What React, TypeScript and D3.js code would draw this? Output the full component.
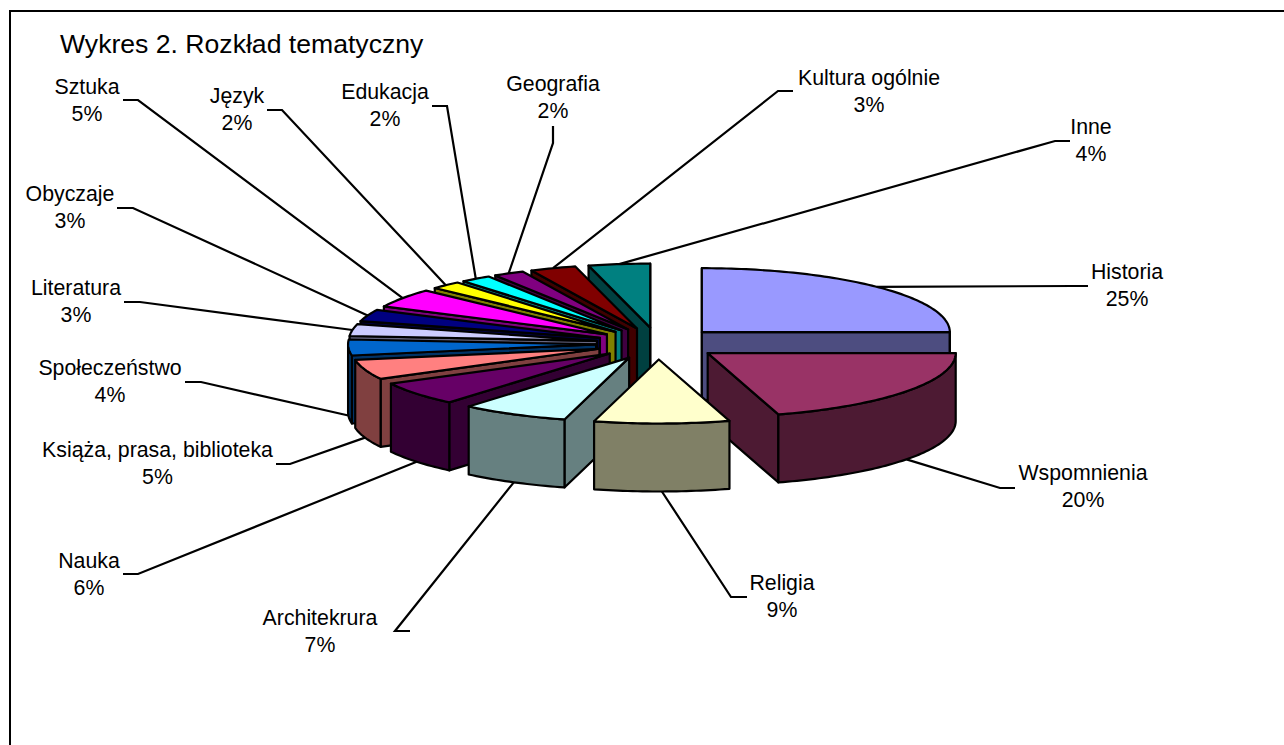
import React from 'react';
import * as d3 from 'd3';

const categories = ['Historia', 'Wspomnienia', 'Religia', 'Architekrura', 'Nauka', 'Książa, prasa, biblioteka', 'Społeczeństwo', 'Literatura', 'Obyczaje', 'Sztuka', 'Język', 'Edukacja', 'Geografia', 'Kultura ogólnie', 'Inne'];
// shares as read from the slice edges; the labels show them rounded
const shares = [25, 20.4, 8.8, 7, 6, 5, 4, 3, 3, 4.8, 2, 2, 2, 3, 4];
const topColors = ['#9999FF', '#993366', '#FFFFCC', '#CCFFFF', '#660066', '#FF8080', '#0066CC', '#CCCCFF', '#000080', '#FF00FF', '#FFFF00', '#00FFFF', '#800080', '#800000', '#008080'];

// label centre x, first text baseline y, then the two leader points next to the label
const labelLayout: [number, number, [number, number], [number, number]][] = [
  [1127, 279, [1088, 286], [1073, 286]],
  [1083, 480, [1015, 488], [1000, 488]],
  [782, 590, [747, 597], [731, 597]],
  [320, 625, [410, 631], [395, 631]],
  [89, 568, [123, 574], [138, 574]],
  [157.5, 457, [276, 464], [290, 464]],
  [110, 375, [185, 382], [201, 382]],
  [76, 295, [124, 302], [140, 302]],
  [70, 201, [117, 208], [133, 208]],
  [87, 94, [123, 100], [138, 100]],
  [237, 103, [267, 110], [282, 110]],
  [385, 99, [432, 106], [447, 106]],
  [553, 91, [553, 126], [553, 143]],
  [869, 85, [793, 91], [778, 91]],
  [1091, 134, [1070, 141], [1055, 141]],
];

const W = 1284;
const H = 745;
const cx = 658;
const cy = 343.5;
const rx = 248;
const ry = 64;
const depth = 68;
const explode = 62;

const FONT = '"Liberation Sans", Arial, sans-serif';

type Pt = [number, number];

const pie = d3.pie<number>().sort(null).value(d => d);
const line = d3.line<Pt>();

function darker(c: string) {
  const rgb = d3.rgb(c);
  return d3.rgb(rgb.r / 2, rgb.g / 2, rgb.b / 2).formatHex();
}

const down = (p: Pt): Pt => [p[0], p[1] + depth];

function buildSlice(arc: d3.PieArcDatum<number>, i: number) {
  const a0 = arc.startAngle;
  const a1 = arc.endAngle;
  const mid = (a0 + a1) / 2;
  const apex: Pt = [cx + explode * Math.sin(mid), cy - explode * (ry / rx) * Math.cos(mid)];
  const rim = (t: number): Pt => [apex[0] + rx * Math.sin(t), apex[1] - ry * Math.cos(t)];
  const arcPts = (from: number, to: number): Pt[] => {
    const n = Math.max(2, Math.ceil((to - from) / 0.02));
    return d3.range(n + 1).map(k => rim(from + ((to - from) * k) / n));
  };

  const top = [apex, ...arcPts(a0, a1)];
  const midRim = rim(mid);

  // a radial wall shows only when the top of the slice lies above its edge
  const showsWall = (t: number) => {
    const r = rim(t);
    if (Math.abs(r[0] - apex[0]) < 1e-6) return true; // side-on, collapses to a stroke
    const edgeY = apex[1] + ((r[1] - apex[1]) * (midRim[0] - apex[0])) / (r[0] - apex[0]);
    return midRim[1] < edgeY;
  };

  const walls: Pt[][] = [a0, a1].filter(showsWall).map(t => {
    const r = rim(t);
    return [apex, r, down(r), down(apex)];
  });

  const f0 = Math.max(a0, Math.PI / 2);
  const f1 = Math.min(a1, (3 * Math.PI) / 2);
  const outer: Pt[] | null = f1 > f0
    ? [...arcPts(f0, f1), ...arcPts(f0, f1).reverse().map(down)]
    : null;

  const anchor: Pt = Math.cos(mid) < 0 ? down(midRim) : midRim;
  const color = topColors[i];
  return { i, mid, color, side: darker(color), top, walls, outer, anchor };
}

const slices = pie(shares).map(buildSlice);
// painter's order: back of the pie first, front last
const drawOrder = [...slices].sort((a, b) => d3.descending(Math.cos(a.mid), Math.cos(b.mid)));

export default function App() {
  return (
    <svg
      width={W}
      height={H}
      style={{ position: 'absolute', left: 0, top: 0, background: '#fff' }}
      fontFamily={FONT}
    >
      <path d="M10 745V11H1284" fill="none" stroke="#000" strokeWidth={2} />
      <text x={60} y={53} fontSize={26.6} fill="#000">Wykres 2. Rozkład tematyczny</text>

      {slices.map(s => {
        const [, , p0, p1] = labelLayout[s.i];
        return (
          <path
            key={s.i}
            d={line([p0, p1, s.anchor]) ?? ''}
            fill="none"
            stroke="#000"
            strokeWidth={2.2}
          />
        );
      })}

      {drawOrder.map(s => (
        <g key={s.i} stroke="#000" strokeWidth={2.2} strokeLinejoin="round">
          {s.walls.map((w, k) => (
            <path key={k} d={`${line(w)}Z`} fill={s.side} />
          ))}
          {s.outer && <path d={`${line(s.outer)}Z`} fill={s.side} />}
          <path d={`${line(s.top)}Z`} fill={s.color} />
        </g>
      ))}

      {categories.map((c, i) => {
        const [x, y] = labelLayout[i];
        return (
          <text key={c} x={x} y={y} textAnchor="middle" fontSize={21.3} fill="#000">
            <tspan x={x}>{c}</tspan>
            <tspan x={x} dy={27}>{Math.round(shares[i])}%</tspan>
          </text>
        );
      })}
    </svg>
  );
}
